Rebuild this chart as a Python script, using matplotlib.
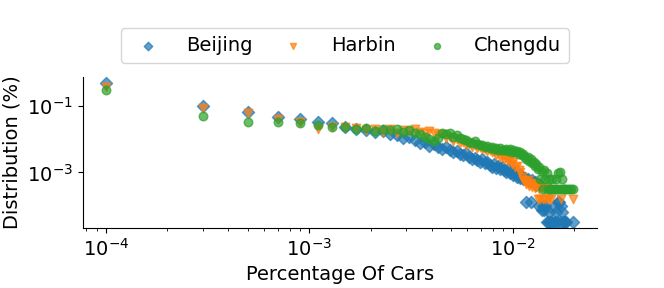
import matplotlib
matplotlib.use('Agg')
import matplotlib.pyplot as plt
import numpy as np

nan = float('nan')

#Percentage of cars, bins in units of 1e-4 (odd steps 1, 3, 5 ... 199)
car_bins = list(range(1, 200, 2))

#Distribution (%), one value per bin, nan where nothing is drawn
beijing = [0.50, 0.10, 0.066, 0.047, 0.040, 0.034, 0.030, 0.024, 0.021, 0.019,
           0.017, 0.018, 0.014, 0.013, 0.011, 0.012, 0.0095, 0.0078, 0.0085, 0.0062,
           0.0070, 0.0058, 0.0052, 0.0060, 0.0047, 0.0042, 0.0045, 0.0036, 0.0033, 0.0038,
           0.0030, 0.0026, 0.0028, 0.0024, 0.0021, 0.0025, 0.0019, 0.0020, 0.0017, 0.0015,
           0.0018, 0.0014, 0.0016, 0.0013, 0.0015, 0.0012, 0.0010, 0.0013, 0.00095, 0.0011,
           0.00085, 0.0010, 0.00075, 0.00090, 0.00068, 0.00080, 0.00062, 0.00070, 0.00013, 0.00065,
           0.00055, 0.00013, 0.00060, 0.00048, 0.00052, 0.00043, 0.00046, 0.000097, 0.00043, 0.000075,
           0.000097, 0.000075, 0.000097, 0.000032, 0.000032, 0.000065, 0.000032, 0.000032, 0.000032, 0.000097,
           0.000032, 0.000065, 0.000032, 0.00013, 0.00013, 0.000032, 0.000097, 0.000065, 0.000032, 0.000032,
           0.000032, 0.000032, nan, nan, nan, nan, nan, nan, nan, 0.000032]

harbin = [0.37, 0.087, 0.061, 0.040, 0.033, 0.020, 0.023, 0.023, 0.022, 0.019,
          0.020, 0.017, 0.021, 0.016, 0.019, 0.018, 0.020, 0.017, 0.015, 0.018,
          0.016, 0.013, 0.014, 0.011, 0.012, 0.009, 0.010, 0.0075, 0.0080, 0.0068,
          0.0072, 0.0060, 0.0065, 0.0055, 0.0058, 0.0050, 0.0052, 0.0045, 0.0048, 0.0042,
          0.0040, 0.0034, 0.0038, 0.0030, 0.0032, 0.0026, 0.0028, 0.0022, 0.0024, 0.0018,
          0.0020, 0.0015, 0.0016, 0.0012, 0.0010, 0.00075, 0.00060, 0.00055, 0.00045, 0.00060,
          0.00040, 0.00048, 0.00037, 0.00045, 0.00035, 0.00040, 0.00016, 0.00032, 0.00016, 0.00037,
          0.00016, 0.00032, 0.00016, 0.00035, 0.00016, 0.00016, nan, 0.00016, nan, nan,
          nan, nan, nan, nan, nan, nan, 0.00016, nan, nan, nan,
          nan, nan, nan, nan, nan, nan, nan, nan, nan, 0.00016]

chengdu = [0.31, 0.051, 0.033, 0.034, 0.030, 0.027, 0.023, 0.023, 0.021, 0.022,
           0.018, 0.020, 0.019, 0.021, 0.017, 0.019, 0.016, 0.014, 0.012, 0.010,
           0.0090, 0.011, 0.016, 0.014, 0.015, 0.012, 0.013, 0.011, 0.010, 0.0095,
           0.0085, 0.0078, 0.0088, 0.0070, 0.0065, 0.0068, 0.0060, 0.0062, 0.0055, 0.0058,
           0.0052, 0.0056, 0.0048, 0.0054, 0.0046, 0.0048, 0.0052, 0.0045, 0.0050, 0.0042,
           0.0046, 0.0040, 0.0044, 0.0036, 0.0040, 0.0033, 0.0036, 0.0030, 0.0026, 0.0030,
           0.0022, 0.0026, 0.0019, 0.0021, 0.0016, 0.0018, 0.0013, 0.0015, 0.00062, 0.0011,
           0.00031, 0.0012, 0.00062, 0.00093, 0.00031, 0.00062, 0.00031, 0.00031, 0.00062, 0.00031,
           0.00031, 0.00062, 0.00031, 0.00093, 0.00031, 0.0010, 0.00031, 0.00062, 0.00031, 0.00031,
           0.00031, nan, 0.00031, nan, 0.00031, nan, 0.00031, nan, nan, 0.00031]

city_names = ['Beijing', 'Harbin', 'Chengdu']
city_markers = ['D', 'v', 'o']
city_colors = ['tab:blue', 'tab:orange', 'tab:green']

x = np.array(car_bins) * 1e-4

fig = plt.figure(figsize=(6.64, 2.88), dpi=100)
ax = fig.add_axes([0.125, 0.208, 0.774, 0.525])

#one scatter per city, green drawn last so it sits on top
for name, ys, mk, col in zip(city_names, [beijing, harbin, chengdu], city_markers, city_colors):
    ax.scatter(x, np.array(ys, dtype=float), marker=mk, color=col, s=38, alpha=0.7,
               linewidths=1, label=name)

ax.set_xscale('log')
ax.set_yscale('log')
ax.set_xlim(7.7e-5, 0.026)
ax.set_ylim(2.1e-5, 0.76)

ax.spines['top'].set_visible(False)
ax.spines['right'].set_visible(False)
ax.tick_params(axis='both', which='major', labelsize=14)

ax.set_xlabel('Percentage Of Cars', fontsize=14)
ax.set_ylabel('Distribution (%)', fontsize=14)

ax.legend(loc='lower center', bbox_to_anchor=(0.51, 1.03), ncol=3, fontsize=14,
          markerscale=0.7, handletextpad=0.93, columnspacing=1.12)

plt.savefig('out.png', dpi=100)
